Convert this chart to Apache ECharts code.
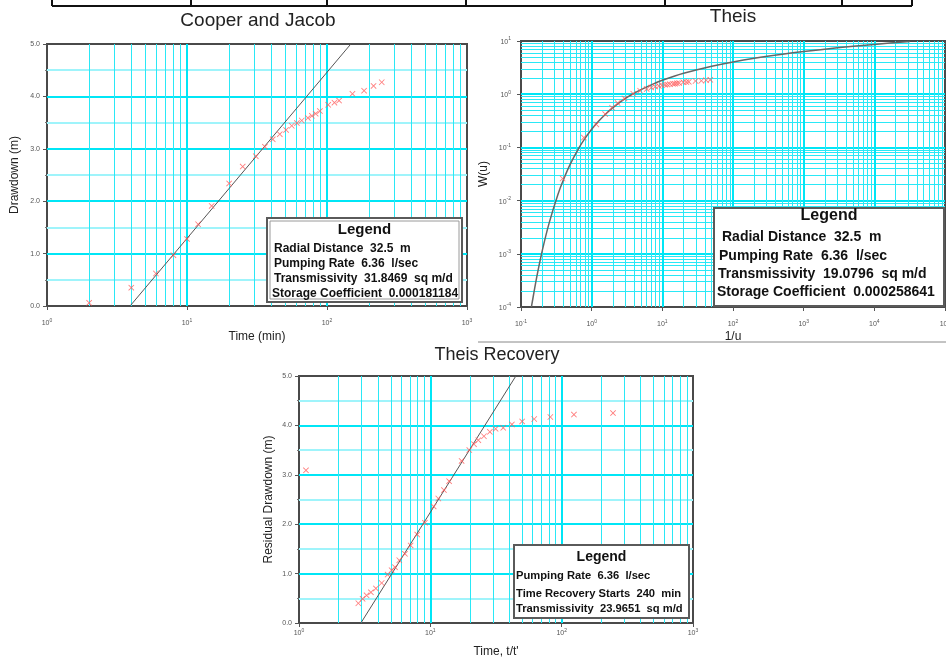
<!DOCTYPE html>
<html><head><meta charset="utf-8">
<script src="https://cdn.jsdelivr.net/npm/echarts@6/dist/echarts.min.js"></script>
<style>html,body{margin:0;padding:0;background:#fff}#c{width:946px;height:658px}</style>
</head><body><div id="c"></div>
<script>
// ---------- Cooper and Jacob ----------
const cooperTime = [2,4,6,8,10,12,15,20,25,31,36,41,46,51,56,61,66,73,78,83,89,102,113,122,152,184,215,246];
const cooperDrawdown = [0.06,0.35,0.62,0.97,1.28,1.56,1.91,2.34,2.66,2.86,3.04,3.18,3.28,3.36,3.44,3.49,3.54,3.59,3.63,3.67,3.72,3.84,3.88,3.92,4.05,4.11,4.20,4.27];
const cooperFitTime = [3.92, 148];
const cooperFitDrawdown = [0, 5];
const cooperXTicks = [1, 10, 100, 1000];
const cooperYTicks = [0, 1, 2, 3, 4, 5];
const cooperLegend = ['Radial Distance  32.5  m','Pumping Rate  6.36  l/sec','Transmissivity  31.8469  sq m/d','Storage Coefficient  0.000181184'];

// ---------- Theis ----------
const theisInvU = [0.388,0.776,1.164,1.552,1.94,2.33,2.91,3.88,4.85,6.01,6.98,7.95,8.92,9.89,10.9,11.8,12.8,14.2,15.1,16.1,17.3,19.8,21.9,23.7,29.5,35.7,41.7,47.7];
const theisW = [0.026,0.153,0.27,0.423,0.558,0.681,0.833,1.02,1.16,1.25,1.33,1.39,1.43,1.47,1.50,1.52,1.54,1.57,1.58,1.60,1.62,1.68,1.69,1.71,1.77,1.79,1.83,1.86];
const theisCurveInvU = [0.1404,0.143,0.1667,0.2,0.25,0.333,0.4,0.5,0.667,0.8,1,1.25,1.667,2,2.5,3.333,4,5,7.5,10,15,20,30,50,100,200,500,1000,3000,10000,32000];
const theisCurveW = [1.0e-4,1.155e-4,3.60e-4,1.148e-3,3.78e-3,1.305e-2,2.49e-2,4.89e-2,0.100,0.1465,0.2194,0.3106,0.4544,0.5598,0.7024,0.9057,1.0443,1.2227,1.567,1.8229,2.1965,2.4679,2.857,3.3547,4.0379,4.7261,5.6394,6.3315,7.4295,8.6332,9.796];
const theisXTicks = [0.1, 1, 10, 100, 1000, 10000, 100000];
const theisYTicks = [0.0001, 0.001, 0.01, 0.1, 1, 10];
const theisLegend = ['Radial Distance  32.5  m','Pumping Rate  6.36  l/sec','Transmissivity  19.0796  sq m/d','Storage Coefficient  0.000258641'];

// ---------- Theis Recovery ----------
const recTimeRatio = [1.13,2.83,3.05,3.27,3.53,3.85,4.26,4.73,5.07,5.38,5.8,6.41,7.08,7.95,9.1,10.6,11.5,12.7,13.9,17.3,19.8,21.5,23.2,25.6,28.4,31.4,35.9,41.8,50,61.8,82,124,246];
const recResidual = [3.09,0.40,0.49,0.56,0.62,0.70,0.81,0.98,1.07,1.13,1.27,1.40,1.57,1.79,2.03,2.36,2.52,2.69,2.87,3.28,3.50,3.62,3.70,3.78,3.87,3.93,3.95,4.02,4.08,4.13,4.17,4.22,4.25];
const recFitRatio = [2.96, 44.8];
const recFitResidual = [0, 5];
const recXTicks = [1, 10, 100, 1000];
const recYTicks = [0, 1, 2, 3, 4, 5];
const recLegend = ['Pumping Rate  6.36  l/sec','Time Recovery Starts  240  min','Transmissivity  23.9651  sq m/d'];

const FONT = 'Arial, "Liberation Sans", sans-serif';
const MAJOR = {color:'#00e6f6', width:2, opacity:1};
const MINOR_V = {color:'#2ae8f6', width:1, opacity:1};
const MINOR_H = {color:'#9ff4fb', width:2, opacity:1};
const MINOR_HL = {color:'#2ae8f6', width:1, opacity:1};
const XSYM = 'path://M0,1L1,0L5,4L9,0L10,1L6,5L10,9L9,10L5,6L1,10L0,9L4,5Z';

const rich = {
  b:{fontSize:7,color:'#555',fontFamily:FONT,verticalAlign:'bottom'},
  s:{fontSize:5,color:'#555',fontFamily:FONT,verticalAlign:'top',padding:[0,0,4,0]}
};
function powFmt(v){ const e = Math.round(Math.log10(v)); return '{b|10}{s|' + e + '}'; }

function logLines(ticks){
  const out = [];
  for (let i = 0; i < ticks.length - 1; i++) {
    for (let k = 1; k < 10; k++) {
      if (i === 0 && k === 1) continue;
      out.push({v: k * ticks[i], major: k === 1});
    }
  }
  return out;
}
function linLines(ticks){
  const out = [];
  for (let i = 0; i < ticks.length - 1; i++) {
    if (i > 0) out.push({v: ticks[i], major: true});
    out.push({v: (ticks[i] + ticks[i+1]) / 2, major: false});
  }
  return out;
}
function gridSeries(idx, xTicks, yTicks, xLog, yLog){
  const x0 = xTicks[0], x1 = xTicks[xTicks.length-1], y0 = yTicks[0], y1 = yTicks[yTicks.length-1];
  const data = [];
  const xs = xLog ? logLines(xTicks) : linLines(xTicks);
  const ys = yLog ? logLines(yTicks) : linLines(yTicks);
  ys.forEach(o => data.push({coords:[[x0,o.v],[x1,o.v]], lineStyle: o.major ? MAJOR : (yLog ? MINOR_HL : MINOR_H)}));
  xs.forEach(o => data.push({coords:[[o.v,y0],[o.v,y1]], lineStyle: o.major ? MAJOR : MINOR_V}));
  return {type:'lines', coordinateSystem:'cartesian2d', xAxisIndex:idx, yAxisIndex:idx, polyline:false,
    silent:true, z:1, animation:false, lineStyle:{opacity:1, type:'solid'}, data};
}
function pairs(a, b){ return a.map((v,i) => [v, b[i]]); }

const axisNameStyle = {fontFamily:FONT, fontSize:12, color:'#222'};
function logX(idx, ticks, name, gap, margin){
  return {type:'log', logBase:10, gridIndex:idx, min:ticks[0], max:ticks[ticks.length-1],
    name, nameLocation:'middle', nameGap:gap, nameTextStyle:axisNameStyle,
    axisLine:{show:false}, axisTick:{show:true, length:4, lineStyle:{color:'#555'}},
    splitLine:{show:false}, axisLabel:{formatter:powFmt, rich, margin, showMaxLabel:true, showMinLabel:true, hideOverlap:false}};
}
function linY(idx, ticks, name, gap){
  return {type:'value', gridIndex:idx, min:ticks[0], max:ticks[ticks.length-1], interval:1,
    name, nameLocation:'middle', nameGap:gap, nameRotate:90, nameTextStyle:axisNameStyle,
    axisLine:{show:false}, axisTick:{show:true, length:4, lineStyle:{color:'#555'}},
    minorTick:{show:true, splitNumber:2, length:2, lineStyle:{color:'#777'}},
    splitLine:{show:false},
    axisLabel:{formatter: v => v.toFixed(1), fontSize:7, color:'#555', fontFamily:FONT, margin:7}};
}
function logY(idx, ticks, name, gap){
  return {type:'log', logBase:10, gridIndex:idx, min:ticks[0], max:ticks[ticks.length-1],
    name, nameLocation:'middle', nameGap:gap, nameRotate:90, nameTextStyle:axisNameStyle,
    axisLine:{show:false}, axisTick:{show:true, length:4, lineStyle:{color:'#555'}},
    splitLine:{show:false}, axisLabel:{formatter:powFmt, rich, margin:10}};
}
const gridBase = {show:true, borderColor:'#4a4a4a', borderWidth:2, backgroundColor:'#fff', containLabel:false, outerBoundsMode:'none'};

function legendBox(x, y, w, h, titleY, titleSize, lines, lineX, lineYs, font, dbl){
  const els = [];
  els.push({type:'rect', z:100, shape:{x, y, width:w, height:h}, style:{fill:'#fff', stroke:'#5a5a5a', lineWidth:2}});
  if (dbl) els.push({type:'rect', z:100, shape:{x:x+3, y:y+3, width:w-6, height:h-6}, style:{fill:'none', stroke:'#9a9a9a', lineWidth:1}});
  els.push({type:'text', z:101, x:x + w/2, y:titleY, style:{text:'Legend', font:'bold ' + titleSize + 'px ' + FONT, fill:'#111', textAlign:'center', align:'center', textVerticalAlign:'middle', verticalAlign:'middle'}});
  lines.forEach((t, i) => els.push({type:'text', z:101, x:lineX[i], y:lineYs[i], style:{text:t, font, fill:'#111', textAlign:'left', align:'left', textVerticalAlign:'middle', verticalAlign:'middle'}}));
  return els;
}
function title(text, x, y, size){
  return {type:'text', z:101, x, y, style:{text, font: size + 'px ' + FONT, fill:'#222', textAlign:'center', align:'center', textVerticalAlign:'middle', verticalAlign:'middle'}};
}
const graphics = [];
graphics.push({type:'line', z:100, shape:{x1:52, y1:6, x2:912, y2:6}, style:{stroke:'#111', lineWidth:2}});
[52,191,327,466,665,842,912].forEach(x => graphics.push({type:'line', z:100, shape:{x1:x, y1:0, x2:x, y2:6}, style:{stroke:'#111', lineWidth:2}}));
graphics.push({type:'line', z:100, shape:{x1:478, y1:342, x2:946, y2:342}, style:{stroke:'#888', lineWidth:1}});
graphics.push(title('Cooper and Jacob', 258, 21, 19));
graphics.push(title('Theis', 733, 17, 19));
graphics.push(title('Theis Recovery', 497, 355, 18));
graphics.push(...legendBox(267, 218, 195, 84, 230, 15, cooperLegend, [274,274,274,272], [249,264,279,294], 'bold 12px ' + FONT, true));
graphics.push(...legendBox(714, 208, 230, 98, 216, 16, theisLegend, [722,719,718,717], [237,256,274,292], 'bold 14px ' + FONT, false));
graphics.push(...legendBox(514, 545, 175, 73, 557, 14, recLegend, [516,516,516], [576,594,609], 'bold 11.2px ' + FONT, false));

const scatterStyle = {color:'#ff5a5a'};
const option = {
  backgroundColor:'#fff',
  animation:false,
  grid:[
    Object.assign({left:47, top:44, width:420, height:262}, gridBase),
    Object.assign({left:521, top:41, width:424, height:266}, gridBase),
    Object.assign({left:299, top:376, width:394, height:247}, gridBase)
  ],
  xAxis:[
    logX(0, cooperXTicks, 'Time (min)', 25, 12),
    logX(1, theisXTicks, '1/u', 24, 12),
    logX(2, recXTicks, "Time, t/t'", 23, 5)
  ],
  yAxis:[
    linY(0, cooperYTicks, 'Drawdown (m)', 26),
    logY(1, theisYTicks, 'W(u)', 31),
    linY(2, recYTicks, 'Residual Drawdown (m)', 24)
  ],
  graphic:{elements:graphics},
  series:[
    gridSeries(0, cooperXTicks, cooperYTicks, true, false),
    gridSeries(1, theisXTicks, theisYTicks, true, true),
    gridSeries(2, recXTicks, recYTicks, true, false),
    {type:'line', xAxisIndex:0, yAxisIndex:0, z:3, data:pairs(cooperFitTime, cooperFitDrawdown), showSymbol:false, symbol:'none', lineStyle:{color:'#555', width:1}, silent:true},
    {type:'scatter', xAxisIndex:0, yAxisIndex:0, z:4, data:pairs(cooperTime, cooperDrawdown), symbol:XSYM, symbolSize:6, itemStyle:scatterStyle},
    {type:'line', xAxisIndex:1, yAxisIndex:1, z:3, data:pairs(theisCurveInvU, theisCurveW), showSymbol:false, symbol:'none', smooth:0.3, lineStyle:{color:'#666', width:1.5}, silent:true},
    {type:'scatter', xAxisIndex:1, yAxisIndex:1, z:4, data:pairs(theisInvU, theisW), symbol:XSYM, symbolSize:6, itemStyle:scatterStyle},
    {type:'line', xAxisIndex:2, yAxisIndex:2, z:3, data:pairs(recFitRatio, recFitResidual), showSymbol:false, symbol:'none', lineStyle:{color:'#555', width:1}, silent:true},
    {type:'scatter', xAxisIndex:2, yAxisIndex:2, z:4, data:pairs(recTimeRatio, recResidual), symbol:XSYM, symbolSize:6, itemStyle:scatterStyle}
  ]
};
const chart = echarts.init(document.getElementById('c'), null, {renderer:'canvas'});
chart.setOption(option);
</script></body></html>
